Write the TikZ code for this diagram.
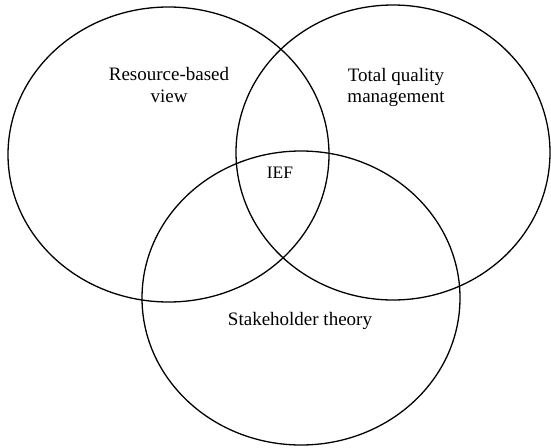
\documentclass[tikz,border=0pt]{standalone}
\usepackage{fontspec}
\setmainfont{Liberation Serif}
\usetikzlibrary{shapes.geometric}
\tikzset{
  setellipse/.style={ellipse, draw, line width=1.3pt, inner sep=0pt},
  setlabel/.style={align=center, font=\fontsize{19}{21}\selectfont}
}
\begin{document}
\begin{tikzpicture}[x=1pt, y=-1pt]
            \useasboundingbox (0,0) rectangle (551,447);
            \node[setellipse, minimum width=321pt, minimum height=295pt] (rbv) at (168.5,154.5) {};
            \node[setellipse, minimum width=314pt, minimum height=295pt] (tqm) at (393,152.5) {};
            \node[setellipse, minimum width=318pt, minimum height=294pt] (st) at (301,298) {};

            \node[setlabel] (rbvlabel) at (169,85) {Resource-based\\view};
            \node[setlabel] (tqmlabel) at (396,87) {Total quality\\management};
            \node[setlabel, anchor=base, font=\fontsize{17.5}{19}\selectfont] (ief) at (280,178) {IEF};
            \node[setlabel, anchor=base] (stlabel) at (300,325) {Stakeholder theory};
        \end{tikzpicture}
\end{document}
